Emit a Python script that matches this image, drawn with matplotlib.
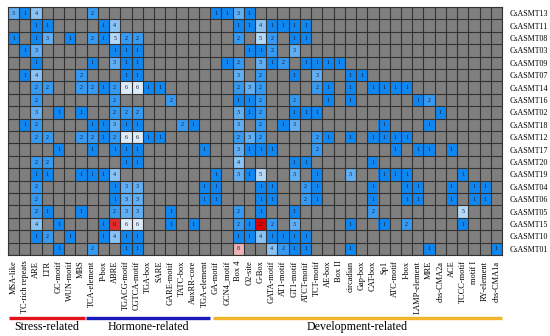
import numpy as np
import matplotlib.pyplot as plt
from matplotlib.colors import LinearSegmentedColormap, Normalize
from matplotlib.transforms import blended_transform_factory
from matplotlib.lines import Line2D

plt.rcParams['font.family'] = ['Liberation Serif', 'DejaVu Serif']

genes = ['CsASMT13', 'CsASMT11', 'CsASMT08', 'CsASMT03', 'CsASMT09', 'CsASMT07',
         'CsASMT14', 'CsASMT16', 'CsASMT02', 'CsASMT18', 'CsASMT12', 'CsASMT17',
         'CsASMT20', 'CsASMT19', 'CsASMT04', 'CsASMT06', 'CsASMT05', 'CsASMT15',
         'CsASMT10', 'CsASMT01']

stress_elements = ['MSA-like', 'TC-rich repeats', 'ARE', 'LTR', 'GC-motif',
                   'WUN-motif', 'MBS']
hormone_elements = ['TCA-element', 'P-box', 'ABRE', 'TGACG-motif', 'CGTCA-motif',
                    'TGA-box', 'SARE', 'GARE-motif', 'TATC-box', 'AuxRR-core',
                    'TGA-element']
development_elements = ['GA-motif', 'GCN4_motif', 'Box 4', 'O2-site', 'G-Box',
                        'GATA-motif', 'AT1-motif', 'GT1-motif', 'ATCT-motif',
                        'TCT-motif', 'AE-box', 'Box II', 'circadian', 'Gap-box',
                        'CAT-box', 'Sp1', 'ATC-motif', 'I-box', 'LAMP-element',
                        'MRE', 'chs-CMA2a', 'ACE', 'TCCC-motif', 'motif I',
                        'RY-element', 'chs-CMA1a']

# element counts per gene (rows follow `genes`)
stress_counts = [
    [3, 1, 4, 0, 0, 0, 0],
    [0, 0, 1, 1, 0, 0, 0],
    [1, 0, 1, 3, 0, 1, 0],
    [0, 1, 3, 0, 0, 0, 0],
    [0, 0, 1, 0, 0, 0, 0],
    [0, 1, 4, 0, 0, 0, 2],
    [0, 0, 2, 2, 0, 0, 2],
    [0, 0, 2, 0, 0, 0, 0],
    [0, 0, 3, 0, 1, 0, 1],
    [0, 1, 2, 0, 0, 0, 0],
    [0, 0, 2, 2, 0, 0, 2],
    [0, 0, 0, 0, 1, 0, 0],
    [0, 0, 2, 2, 0, 0, 0],
    [0, 0, 1, 1, 0, 0, 1],
    [0, 0, 2, 0, 0, 0, 0],
    [0, 0, 2, 0, 0, 0, 0],
    [0, 0, 2, 1, 0, 0, 1],
    [0, 0, 4, 0, 1, 0, 0],
    [0, 0, 1, 2, 0, 1, 0],
    [0, 0, 0, 0, 1, 0, 0],
]

hormone_counts = [
    [2, 0, 0, 0, 0, 0, 0, 0, 0, 0, 0],
    [0, 1, 4, 0, 0, 0, 0, 0, 0, 0, 0],
    [2, 1, 5, 2, 2, 0, 0, 0, 0, 0, 0],
    [0, 0, 1, 1, 1, 0, 0, 0, 0, 0, 0],
    [1, 0, 3, 1, 1, 0, 0, 0, 0, 0, 0],
    [0, 0, 0, 1, 1, 0, 0, 0, 0, 0, 0],
    [2, 1, 2, 6, 6, 1, 1, 0, 0, 0, 0],
    [0, 0, 2, 0, 0, 0, 0, 2, 0, 0, 0],
    [0, 0, 2, 2, 2, 0, 0, 0, 0, 0, 0],
    [1, 1, 3, 1, 1, 0, 0, 0, 2, 1, 0],
    [2, 1, 2, 6, 6, 1, 1, 0, 0, 0, 0],
    [1, 0, 1, 1, 1, 0, 0, 0, 0, 0, 1],
    [0, 0, 0, 1, 1, 0, 0, 0, 0, 0, 0],
    [1, 1, 4, 0, 0, 0, 0, 0, 0, 0, 0],
    [0, 0, 1, 3, 3, 0, 0, 0, 0, 0, 1],
    [0, 0, 1, 3, 3, 0, 0, 0, 0, 0, 1],
    [0, 0, 2, 3, 3, 0, 0, 1, 0, 0, 0],
    [0, 1, 11, 6, 6, 0, 0, 1, 0, 1, 0],
    [0, 1, 4, 1, 1, 0, 0, 0, 0, 0, 0],
    [2, 0, 0, 1, 1, 0, 0, 0, 0, 0, 0],
]

development_counts = [
    [1, 1, 3, 1, 0, 0, 0, 0, 0, 0, 0, 0, 0, 0, 0, 0, 0, 0, 0, 0, 0, 0, 0, 0, 0, 0],
    [0, 0, 1, 1, 4, 1, 1, 1, 1, 0, 0, 0, 0, 0, 0, 0, 0, 0, 0, 0, 0, 0, 0, 0, 0, 0],
    [0, 0, 2, 0, 5, 2, 0, 1, 1, 0, 0, 0, 0, 0, 0, 0, 0, 0, 0, 0, 0, 0, 0, 0, 0, 0],
    [0, 0, 0, 1, 1, 2, 0, 3, 0, 0, 0, 0, 0, 0, 0, 0, 0, 0, 0, 0, 0, 0, 0, 0, 0, 0],
    [0, 1, 2, 0, 3, 1, 2, 0, 1, 1, 1, 1, 0, 0, 0, 0, 0, 0, 0, 0, 0, 0, 0, 0, 0, 0],
    [0, 0, 3, 0, 2, 0, 0, 1, 0, 3, 0, 0, 1, 1, 0, 0, 0, 0, 0, 0, 0, 0, 0, 0, 0, 0],
    [0, 0, 2, 3, 2, 0, 0, 0, 0, 2, 1, 0, 1, 0, 1, 1, 1, 1, 0, 0, 0, 0, 0, 0, 0, 0],
    [0, 0, 1, 1, 2, 0, 0, 2, 0, 0, 1, 0, 1, 0, 0, 0, 0, 0, 1, 2, 0, 0, 0, 0, 0, 0],
    [0, 0, 3, 1, 2, 0, 0, 1, 1, 1, 0, 0, 0, 0, 0, 0, 0, 0, 0, 0, 1, 0, 0, 0, 0, 0],
    [0, 0, 3, 0, 2, 0, 1, 3, 0, 0, 0, 0, 0, 0, 0, 1, 0, 0, 0, 1, 0, 0, 0, 0, 0, 0],
    [0, 0, 2, 3, 2, 0, 0, 0, 0, 2, 1, 0, 1, 0, 1, 1, 1, 1, 0, 0, 0, 0, 0, 0, 0, 0],
    [0, 0, 3, 1, 1, 1, 0, 0, 0, 2, 0, 0, 0, 0, 0, 0, 1, 0, 1, 1, 0, 1, 0, 0, 0, 0],
    [0, 0, 4, 0, 0, 0, 0, 1, 1, 0, 0, 0, 0, 0, 1, 0, 0, 0, 0, 0, 0, 0, 0, 0, 0, 0],
    [1, 0, 3, 1, 5, 0, 0, 3, 0, 1, 0, 0, 3, 0, 0, 1, 1, 1, 0, 0, 0, 0, 1, 0, 0, 0],
    [1, 0, 0, 0, 1, 1, 0, 0, 2, 1, 0, 0, 0, 0, 1, 0, 0, 1, 1, 0, 0, 1, 0, 1, 1, 0],
    [1, 0, 0, 0, 1, 1, 0, 0, 2, 1, 0, 0, 0, 0, 1, 0, 0, 1, 1, 0, 0, 1, 0, 1, 1, 0],
    [0, 0, 2, 0, 1, 0, 0, 1, 0, 0, 0, 0, 0, 0, 2, 0, 0, 0, 0, 0, 0, 0, 5, 0, 0, 0],
    [0, 0, 2, 1, 12, 2, 0, 3, 0, 0, 0, 0, 1, 0, 0, 1, 0, 2, 0, 0, 0, 0, 1, 0, 0, 0],
    [0, 0, 1, 1, 4, 1, 1, 1, 1, 0, 0, 0, 0, 0, 0, 0, 0, 0, 0, 0, 0, 0, 0, 0, 0, 0],
    [0, 0, 8, 0, 0, 4, 2, 1, 1, 0, 0, 0, 1, 0, 0, 0, 0, 0, 0, 1, 0, 0, 0, 0, 0, 1],
]

elements = stress_elements + hormone_elements + development_elements
data = np.hstack([np.array(stress_counts), np.array(hormone_counts),
                  np.array(development_counts)])
n_rows, n_cols = data.shape

cmap = LinearSegmentedColormap.from_list(
    'bwr_counts', [(0.0, '#0F86F0'), (0.5, '#F2F7FC'), (1.0, '#E00000')])
cmap.set_bad('#7F7F7F')
norm = Normalize(vmin=1, vmax=12)

fig = plt.figure(figsize=(5.5, 3.36), dpi=100)
ax = fig.add_axes([8 / 550, 1 - 255 / 336, 494 / 550, 248 / 336])

ax.imshow(np.ma.masked_equal(data, 0), cmap=cmap, norm=norm, aspect='auto',
          interpolation='nearest')

for i in range(n_rows):
    for j in range(n_cols):
        if data[i, j]:
            ax.text(j, i, str(data[i, j]), ha='center', va='center',
                    fontsize=4.3, color='#1a1a2e')

# cell borders
ax.set_xticks(np.arange(-0.5, n_cols, 1), minor=True)
ax.set_yticks(np.arange(-0.5, n_rows, 1), minor=True)
ax.grid(which='minor', color='#333333', linewidth=0.8)
ax.tick_params(which='minor', length=0)
for s in ax.spines.values():
    s.set_color('#333333')
    s.set_linewidth(0.8)

ax.set_xticks(np.arange(n_cols))
ax.set_xticklabels(elements, rotation=90, fontsize=6)
ax.set_yticks(np.arange(n_rows))
ax.set_yticklabels(genes, fontsize=5.8)
ax.yaxis.tick_right()
ax.tick_params(which='major', length=0)
ax.tick_params(axis='x', pad=4)
ax.tick_params(axis='y', pad=5.5)

# group bars under the element names
trans = blended_transform_factory(ax.transData, fig.transFigure)
groups = [('Stress-related', -0.45, 6.35, '#E3121B'),
          ('Hormone-related', 6.45, 17.5, '#1A1AB8'),
          ('Development-related', 17.75, 43.5, '#F2B42A')]
bar_y = 1 - 317.5 / 336
for name, x0, x1, col in groups:
    fig.add_artist(Line2D([x0, x1], [bar_y, bar_y], transform=trans,
                          color=col, linewidth=2.4, solid_capstyle='butt'))
    fig.text(0, 1 - 327 / 336, name, transform=trans, fontsize=8.6,
             ha='center', va='center')

# put each label at the middle of its bar
for t, (name, x0, x1, col) in zip(fig.texts, groups):
    t.set_x((x0 + x1) / 2)

fig.savefig('out.png', dpi=100)
